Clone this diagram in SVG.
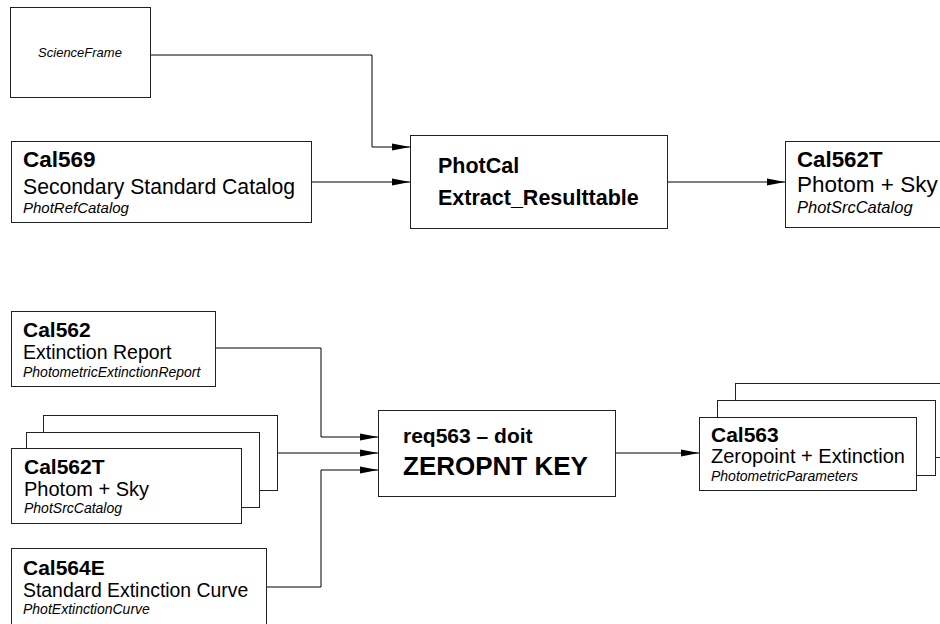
<svg xmlns="http://www.w3.org/2000/svg" width="940" height="624" viewBox="0 0 940 624">
<defs>
<style>
.box{fill:#fff;stroke:#222;stroke-width:1}
.b{font-family:"Liberation Sans",Arial,sans-serif;font-weight:bold;font-size:21px;fill:#000}
.r{font-family:"Liberation Sans",Arial,sans-serif;font-size:20px;fill:#000}
.i{font-family:"Liberation Sans",Arial,sans-serif;font-style:italic;font-size:14px;fill:#000}
.big{font-family:"Liberation Sans",Arial,sans-serif;font-weight:bold;font-size:26px;fill:#000}
.c{fill:none;stroke:#000;stroke-width:1}
</style>
<marker id="ah" markerWidth="18" markerHeight="8" refX="18" refY="4" orient="auto" markerUnits="userSpaceOnUse">
<path d="M0,0.5 L18,4 L0,7.5 Z" fill="#000"/>
</marker>
</defs>
<rect width="940" height="624" fill="#fff"/>
<g id="connectors">
<path class="c" d="M150,55 H372 V147 H410" marker-end="url(#ah)"/>
<path class="c" d="M312,182 H410" marker-end="url(#ah)"/>
<path class="c" d="M668,182 H785" marker-end="url(#ah)"/>
<path class="c" d="M215,348 H321 V437 H378" marker-end="url(#ah)"/>
<path class="c" d="M277,453 H378" marker-end="url(#ah)"/>
<path class="c" d="M266,587 H321 V470 H378" marker-end="url(#ah)"/>
<path class="c" d="M615,453 H699" marker-end="url(#ah)"/>
</g>
<g id="scienceframe">
<rect class="box" x="10.5" y="7.5" width="140" height="90"/>
<text class="i" x="80" y="57" text-anchor="middle" style="font-size:13px">ScienceFrame</text>
</g>
<g id="cal569">
<rect class="box" x="11.5" y="141.5" width="300" height="81"/>
<text class="b" x="23" y="167" style="font-size:22.5px">Cal569</text>
<text class="r" x="23" y="194" style="font-size:21.2px">Secondary Standard Catalog</text>
<text class="i" x="23" y="213" style="font-size:15px">PhotRefCatalog</text>
</g>
<g id="photcal">
<rect class="box" x="410.5" y="135.5" width="257" height="93"/>
<text class="b" x="438" y="173" style="font-size:21.5px">PhotCal</text>
<text class="b" x="438" y="205" style="font-size:21.5px">Extract_Resulttable</text>
</g>
<g id="cal562t-top">
<rect class="box" x="785.5" y="141.5" width="160" height="86"/>
<text class="b" x="797" y="167" style="font-size:22.3px">Cal562T</text>
<text class="r" x="797" y="192" style="font-size:22.5px">Photom + Sky</text>
<text class="i" x="797" y="213" style="font-size:16.5px">PhotSrcCatalog</text>
</g>
<g id="cal562">
<rect class="box" x="11.5" y="311.5" width="204" height="75"/>
<text class="b" x="23" y="337">Cal562</text>
<text class="r" x="23" y="359" style="font-size:19.5px">Extinction Report</text>
<text class="i" x="23" y="377">PhotometricExtinctionReport</text>
</g>
<g id="cal562t-stack">
<rect class="box" x="43.5" y="415.5" width="234" height="75"/>
<rect class="box" x="26.5" y="432.5" width="233" height="75"/>
<rect class="box" x="11.5" y="448.5" width="230" height="75"/>
<text class="b" x="24" y="474">Cal562T</text>
<text class="r" x="24" y="496">Photom + Sky</text>
<text class="i" x="24" y="513">PhotSrcCatalog</text>
</g>
<g id="cal564e">
<rect class="box" x="11.5" y="548.5" width="255" height="80"/>
<text class="b" x="23" y="575">Cal564E</text>
<text class="r" x="23" y="597" style="font-size:19.4px">Standard Extinction Curve</text>
<text class="i" x="23" y="614">PhotExtinctionCurve</text>
</g>
<g id="zeropnt">
<rect class="box" x="378.5" y="410.5" width="237" height="86"/>
<text class="b" x="403" y="443">req563 – doit</text>
<text class="big" x="403" y="475">ZEROPNT KEY</text>
</g>
<g id="cal563-stack">
<rect class="box" x="735.5" y="383.5" width="220" height="74"/>
<rect class="box" x="717.5" y="400.5" width="218" height="75"/>
<rect class="box" x="699.5" y="417.5" width="217" height="73"/>
<text class="b" x="711" y="442">Cal563</text>
<text class="r" x="711" y="463">Zeropoint + Extinction</text>
<text class="i" x="711" y="481">PhotometricParameters</text>
</g>
</svg>
